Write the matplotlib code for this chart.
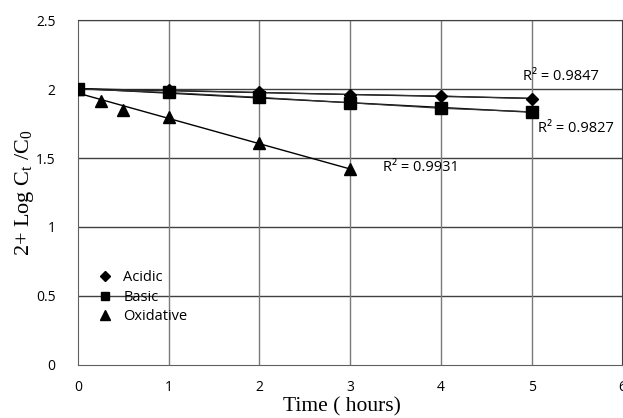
import matplotlib
matplotlib.use("Agg")
import matplotlib.pyplot as plt
import numpy as np

# Data
acidic_x = [0, 1, 2, 3, 4, 5]
acidic_y = [2.00, 1.99, 1.975, 1.96, 1.95, 1.93]
basic_x = [0, 1, 2, 3, 4, 5]
basic_y = [2.00, 1.975, 1.94, 1.90, 1.86, 1.835]
oxid_x = [0, 0.25, 0.5, 1, 2, 3]
oxid_y = [2.00, 1.915, 1.845, 1.795, 1.61, 1.42]

r2_labels = ["R\u00b2 = 0.9847", "R\u00b2 = 0.9827", "R\u00b2 = 0.9931"]
r2_pos = [(4.91, 2.094), (5.07, 1.717), (3.36, 1.43)]

sans = ["Open Sans", "DejaVu Sans"]
serif = ["Liberation Serif", "DejaVu Serif"]

fig = plt.figure(figsize=(6.23, 4.18), dpi=100)
ax = fig.add_axes([0.125, 0.127, 0.874, 0.825])

# grid
for yv in np.arange(0.5, 2.51, 0.5):
    ax.axhline(yv, color="#404040", lw=1, zorder=1)
for xv in range(1, 6):
    ax.axvline(xv, color="#7a7a7a", lw=1, zorder=1)

series = [
    (acidic_x, acidic_y, "D", 6.5, "Acidic"),
    (basic_x, basic_y, "s", 8.5, "Basic"),
    (oxid_x, oxid_y, "^", 9, "Oxidative"),
]
handles = []
for xs, ys, mk, ms, name in series:
    xs = np.array(xs)
    ys = np.array(ys)
    # linear trendline
    k, b = np.polyfit(xs, ys, 1)
    ax.plot([xs.min(), xs.max()], [k * xs.min() + b, k * xs.max() + b],
            color="black", lw=1, zorder=2)
    if name != "Oxidative":
        ax.plot(xs, ys, color="#333333", lw=0.8, zorder=2)
    h, = ax.plot(xs, ys, linestyle="none", marker=mk, ms=ms, color="black",
                 zorder=3, label=name)
    handles.append(h)

for txt, (tx, ty) in zip(r2_labels, r2_pos):
    ax.text(tx, ty, txt, fontsize=10.5, family=sans, va="center", ha="left")

ax.set_xlim(0, 6)
ax.set_ylim(0, 2.5)
ax.set_xticks(range(0, 7))
ax.set_yticks([0, 0.5, 1, 1.5, 2, 2.5])
ax.set_yticklabels(["0", "0.5", "1", "1.5", "2", "2.5"])
ax.tick_params(length=0, labelsize=10, pad=11)
ax.tick_params(axis="y", pad=16)
for lab in ax.get_xticklabels() + ax.get_yticklabels():
    lab.set_family(sans)

for side in ["top", "right"]:
    ax.spines[side].set_color("#404040")
for side in ["left", "bottom"]:
    ax.spines[side].set_color("#606060")

ax.set_xlabel("Time ( hours)", family=serif, fontsize=15.5)
ax.xaxis.set_label_coords(0.485, -0.093)
ax.set_ylabel(r"2+ Log C$_\mathregular{t}$ /C$_\mathregular{0}$", family=serif,
              fontsize=16)
ax.yaxis.set_label_coords(-0.076, 0.5)

leg = ax.legend(handles=handles, loc="upper left", bbox_to_anchor=(0.01, 0.312),
                frameon=False, prop={"family": sans, "size": 10.5},
                handletextpad=0.65, labelspacing=0.3, markerscale=0.75,
                handlelength=1.2)

plt.savefig("out.png", dpi=100)
plt.close()
